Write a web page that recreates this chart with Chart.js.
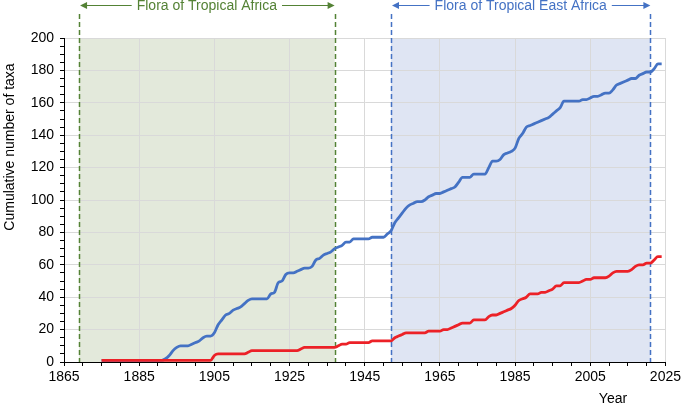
<!DOCTYPE html>
<html>
<head>
<meta charset="utf-8">
<script src="https://cdn.jsdelivr.net/npm/chart.js@4.4.1/dist/chart.umd.min.js"></script>
<style>
  html, body { margin: 0; padding: 0; background: #fff; }
</style>
</head>
<body>
<canvas id="taxaChart" width="684" height="411"></canvas>
<script>
// yearly cumulative counts, first value is for 1875
const firstYear = 1875;
const totalTaxa = [
  1, 1, 1, 1, 1, 1, 1, 1, 1, 1, 1, 1, 1, 1, 1, 1, 1,           // 1875-1891
  2, 4, 7, 9, 10, 10, 10, 11, 12, 13, 15, 16, 16, 18, 23, 26,  // 1892-1907
  29, 30, 32, 33, 34, 36, 38, 39, 39, 39, 39, 39,              // 1908-1919
  42, 43, 49, 50, 54, 55, 55, 56, 57, 58, 58, 59, 63, 64, 66,  // 1920-1934
  67, 68, 70, 71, 72, 74, 74, 76, 76, 76, 76, 76,              // 1935-1946
  77, 77, 77, 77, 79, 81, 86, 89, 92, 95, 97, 98, 99, 99,      // 1947-1960
  100, 102, 103, 104, 104, 105, 106, 107, 108, 111,            // 1961-1970
  114, 114, 114, 116, 116, 116, 116, 120, 124, 124,            // 1971-1980
  125, 128, 129, 130, 132, 138, 141, 145, 146, 147,            // 1981-1990
  148, 149, 150, 151, 153, 155, 157, 161, 161, 161,            // 1991-2000
  161, 161, 162, 162, 163, 164, 164, 165, 166, 166,            // 2001-2010
  168, 171, 172, 173, 174, 175, 175, 177, 178, 179,            // 2011-2020
  179, 181, 184, 184                                           // 2021-2024
];
const endemicTaxa = [
  1, 1, 1, 1, 1, 1, 1, 1, 1, 1, 1, 1, 1, 1, 1,                 // 1875-1889
  1, 1, 1, 1, 1, 1, 1, 1, 1, 1, 1, 1, 1, 1, 1,                 // 1890-1904
  4, 5, 5, 5, 5, 5, 5, 5, 5, 6,                                // 1905-1914
  7, 7, 7, 7, 7, 7, 7, 7, 7, 7, 7, 7, 7, 8,                    // 1915-1928
  9, 9, 9, 9, 9, 9, 9, 9, 9, 10, 11, 11,                       // 1929-1940
  12, 12, 12, 12, 12, 12, 13, 13, 13, 13, 13, 13,              // 1941-1952
  15, 16, 17, 18, 18, 18, 18, 18, 18, 19, 19, 19, 19,          // 1953-1965
  20, 20, 21, 22, 23, 24, 24, 24, 26, 26, 26, 26,              // 1966-1977
  28, 29, 29, 30, 31, 32, 33, 35, 38, 39, 40,                  // 1978-1988
  42, 42, 42, 43, 43, 44, 45, 47, 47,                          // 1989-1997
  49, 49, 49, 49, 49, 50, 51, 51, 52, 52, 52, 52,              // 1998-2009
  53, 55, 56, 56, 56, 56, 57, 59, 60, 60, 61, 61,              // 2010-2021
  63, 65, 65                                                   // 2022-2024
];

// editorial periods of the two floras
const floraNames = ['Flora of Tropical Africa', 'Flora of Tropical East Africa'];
const floraStart = [1869, 1952];
const floraEnd = [1937, 2021];

const FONT = '"Liberation Sans", Arial, sans-serif';
const floraColor = ['#548235', '#4472c4'];
const floraFill = ['#e3e9db', '#dfe5f3'];

Chart.defaults.font.family = FONT;
Chart.defaults.font.size = 14;
Chart.defaults.color = '#000';

function toPoints(values) {
  return values.map((v, i) => ({ x: firstYear + i, y: v }));
}

function arrowHead(ctx, x, y, dir) {
  ctx.beginPath();
  ctx.moveTo(x, y);
  ctx.lineTo(x - dir * 7, y - 3.5);
  ctx.lineTo(x - dir * 7, y + 3.5);
  ctx.closePath();
  ctx.fill();
}

const floraPlugin = {
  id: 'flora',
  beforeDraw(chart) {
    const { ctx, chartArea: a, scales: { x } } = chart;
    ctx.save();
    floraStart.forEach((s, i) => {
      const x0 = x.getPixelForValue(s);
      const x1 = x.getPixelForValue(floraEnd[i]);
      ctx.fillStyle = floraFill[i];
      ctx.fillRect(x0, a.top, x1 - x0, a.bottom - a.top);
    });
    ctx.restore();
  },
  beforeDatasetsDraw(chart) {
    const { ctx, chartArea: a, scales: { x } } = chart;
    ctx.save();
    ctx.lineWidth = 1.5;
    ctx.setLineDash([5, 3]);
    floraStart.forEach((s, i) => {
      ctx.strokeStyle = floraColor[i];
      [s, floraEnd[i]].forEach(yr => {
        const px = Math.round(x.getPixelForValue(yr)) + 0.5;
        ctx.beginPath();
        ctx.moveTo(px, 14);
        ctx.lineTo(px, a.bottom);
        ctx.stroke();
      });
    });
    ctx.restore();
  },
  afterDraw(chart) {
    const { ctx, scales: { x } } = chart;
    ctx.save();
    ctx.font = '14px ' + FONT;
    ctx.textBaseline = 'middle';
    ctx.textAlign = 'center';
    floraNames.forEach((name, i) => {
      const x0 = x.getPixelForValue(floraStart[i]);
      const x1 = x.getPixelForValue(floraEnd[i]);
      const mid = (x0 + x1) / 2;
      const w = ctx.measureText(name).width;
      const y = 5.5;
      ctx.fillStyle = floraColor[i];
      ctx.strokeStyle = floraColor[i];
      ctx.lineWidth = 1;
      ctx.fillText(name, mid, 6.5);
      ctx.beginPath();
      ctx.moveTo(x0 + 2, y);
      ctx.lineTo(mid - w / 2 - 5, y);
      ctx.moveTo(mid + w / 2 + 5, y);
      ctx.lineTo(x1 - 2, y);
      ctx.stroke();
      arrowHead(ctx, x0 + 1, y, -1);
      arrowHead(ctx, x1, y, 1);
    });

    ctx.fillStyle = '#000';
    ctx.fillText('Year', 613, 399);

    ctx.translate(10, 147);
    ctx.rotate(-Math.PI / 2);
    ctx.fillText('Cumulative number of taxa', 0, 0);
    ctx.restore();
  }
};

new Chart(document.getElementById('taxaChart'), {
  type: 'line',
  data: {
    datasets: [
      {
        label: 'Endemic',
        data: toPoints(endemicTaxa),
        borderColor: '#ec2127',
        borderWidth: 2.8,
        pointRadius: 0,
        cubicInterpolationMode: 'monotone'
      },
      {
        label: 'Total',
        data: toPoints(totalTaxa),
        borderColor: '#4472c4',
        borderWidth: 2.8,
        pointRadius: 0,
        cubicInterpolationMode: 'monotone'
      }
    ]
  },
  options: {
    responsive: false,
    animation: false,
    devicePixelRatio: 1,
    layout: { padding: { top: 38, right: 16, left: 0, bottom: 0 } },
    plugins: { legend: { display: false }, tooltip: { enabled: false } },
    scales: {
      x: {
        type: 'linear',
        min: 1865,
        max: 2025,
        afterFit: s => { s.height = 49; },
        border: { color: '#000', width: 1 },
        grid: {
          color: c => (c.tick && (c.tick.value - 1865) % 20 === 0) ? '#d9d9d9' : 'rgba(0,0,0,0)',
          tickColor: '#000',
          tickLength: 4
        },
        ticks: {
          stepSize: 5,
          autoSkip: false,
          maxRotation: 0,
          padding: 3,
          callback: v => ((v - 1865) % 20 === 0 ? String(v) : '')
        }
      },
      y: {
        min: 0,
        max: 200,
        afterFit: s => { s.width = 64; },
        border: { color: '#000', width: 1 },
        grid: {
          color: c => (c.tick && c.tick.value % 20 === 0) ? '#d9d9d9' : 'rgba(0,0,0,0)',
          tickColor: '#000',
          tickLength: 4
        },
        ticks: {
          stepSize: 5,
          autoSkip: false,
          padding: 6,
          callback: v => (v % 20 === 0 ? String(v) : '')
        }
      }
    }
  },
  plugins: [floraPlugin]
});
</script>
</body>
</html>
